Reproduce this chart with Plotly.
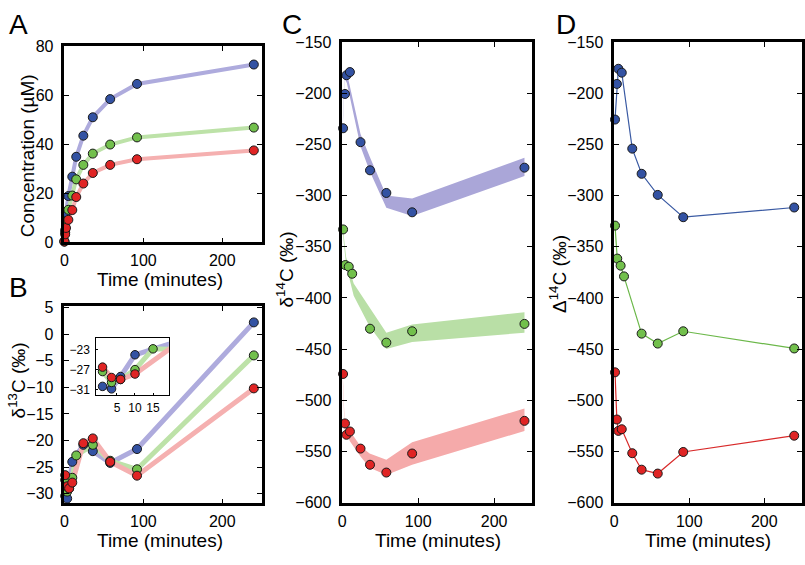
import plotly.graph_objects as go

W, H = 805, 565
FONT = "Liberation Sans, Arial, sans-serif"

# ---------------- data ----------------
# Panel A: concentration (uM)
t_conc = [0, 1, 2, 5, 10, 15, 24, 36, 58, 92, 240]
conc_blue = [0.5, 5.0, 12.1, 18.9, 26.8, 34.9, 43.5, 51.0, 58.4, 64.6, 72.5]
conc_green = [0.3, 4.0, 8.6, 13.3, 19.1, 25.7, 31.6, 36.2, 39.9, 42.8, 46.8]
conc_red = [0.4, 3.3, 5.9, 9.2, 13.2, 18.5, 24.0, 28.3, 31.6, 33.9, 37.5]

# Panel B: d13C (permil)
tB_blue = [1, 3.5, 6, 10, 24, 36, 58, 92, 240]
d13_blue = [-30.4, -30.9, -28.4, -24.0, -20.8, -22.0, -24.2, -21.6, 2.2]
tB_green = [1, 3.5, 6, 10, 15, 36, 58, 92, 240]
d13_green = [-27.4, -29.6, -29.0, -27.0, -22.8, -20.8, -23.8, -25.4, -4.0]
tB_red = [1, 3.5, 6, 10, 24, 36, 58, 92, 240]
d13_red = [-26.5, -28.6, -29.0, -27.9, -20.5, -19.6, -24.0, -26.6, -10.2]

# Panels C, D: d14C and D14C (permil)
t_iso = [1, 3.5, 5.5, 10, 24, 36.5, 58, 92, 240]
t_iso_green = [1, 4, 8.5, 13, 36.5, 58, 92, 240]
d14_blue = [-234.3, -200.8, -182.5, -179.4, -247.9, -275.4, -297.5, -316.4, -272.8]
d14_green = [-333.1, -367.9, -369.5, -376.4, -430.1, -443.7, -432.6, -425.4]
d14_red = [-474.3, -522.6, -533.7, -530.5, -547.2, -563.0, -570.6, -552.0, -520.1]
D14_blue = [-225.8, -191.0, -176.2, -180.0, -254.2, -278.8, -299.4, -321.2, -311.7]
D14_green = [-329.4, -361.6, -368.5, -379.0, -434.9, -444.6, -432.6, -449.4]
D14_red = [-472.7, -518.8, -529.9, -528.3, -551.7, -567.8, -571.6, -550.5, -534.6]

# Panel C model bands
band_t_blue = [0.5, 3, 6, 24, 36, 58, 92, 240]
band_blue_hi = [-230, -180, -180, -240, -262, -300, -303, -263]
band_blue_lo = [-236, -186, -190, -252, -276, -312, -320, -281]
band_t_green = [0.5, 5, 15, 36, 58, 92, 240]
band_green_hi = [-330, -360, -386, -410, -434, -426, -414]
band_green_lo = [-336, -368, -398, -428, -450, -443, -434]
band_t_red = [0.5, 3, 10, 24, 36, 58, 92, 240]
band_red_hi = [-472, -520, -530, -545, -552, -558, -541, -508]
band_red_lo = [-478, -528, -540, -555, -566, -573, -563, -530]

x_ticks = [0, 100, 200]
yA_ticks = [0, 20, 40, 60, 80]
yB_ticks = [5, 0, -5, -10, -15, -20, -25, -30]
yC_ticks = [-150, -200, -250, -300, -350, -400, -450, -500, -550, -600]
inset_x_ticks = [5, 10, 15]
inset_y_ticks = [-23, -27, -31]

# ---------------- styling ----------------
MK = {"blue": "#3352a3", "green": "#72c04c", "red": "#e02424"}
LIGHT = {"blue": "#aeabdd", "green": "#bde2a8", "red": "#f5b0b0"}
BAND = {"blue": "#aaa6d8", "green": "#b9dfa6", "red": "#f5aaaa"}
DLINE = {"blue": "#3a5aa3", "green": "#6cb84a", "red": "#d82a2a"}


def dom_x(a, b):
    return [a / W, b / W]


def dom_y(top, bottom):
    return [1 - bottom / H, 1 - top / H]


fig = go.Figure()


def markers(x, y, c, xa, ya, size=9, clip=False):
    fig.add_trace(go.Scatter(x=x, y=y, mode="markers", xaxis=xa, yaxis=ya,
                             marker=dict(size=size, color=MK[c],
                                         line=dict(color="#1a1a1a", width=1)),
                             cliponaxis=clip, showlegend=False, hoverinfo="skip"))


def line(x, y, color, width, xa, ya):
    fig.add_trace(go.Scatter(x=x, y=y, mode="lines", xaxis=xa, yaxis=ya,
                             line=dict(color=color, width=width),
                             showlegend=False, hoverinfo="skip"))


# Panel A
for c, y in (("blue", conc_blue), ("green", conc_green), ("red", conc_red)):
    line(t_conc, y, LIGHT[c], 4, "x", "y")
for c, y in (("blue", conc_blue), ("green", conc_green), ("red", conc_red)):
    markers(t_conc, y, c, "x", "y")

# Panel B
series_B = (("blue", tB_blue, d13_blue), ("green", tB_green, d13_green), ("red", tB_red, d13_red))
for c, t, y in series_B:
    line(t, y, LIGHT[c], 5, "x2", "y2")
for c, t, y in series_B:
    markers(t, y, c, "x2", "y2")

# Inset of B
for c, t, y in series_B:
    line(t, y, LIGHT[c], 5, "x5", "y5")
for c, t, y in series_B:
    markers(t, y, c, "x5", "y5", size=8.5, clip=True)

# Panel C bands
for c, bt, hi, lo in (("blue", band_t_blue, band_blue_hi, band_blue_lo),
                      ("green", band_t_green, band_green_hi, band_green_lo),
                      ("red", band_t_red, band_red_hi, band_red_lo)):
    fig.add_trace(go.Scatter(x=bt + bt[::-1], y=hi + lo[::-1], mode="lines",
                             fill="toself", fillcolor=BAND[c], line=dict(width=0, color=BAND[c]),
                             xaxis="x3", yaxis="y3", showlegend=False, hoverinfo="skip"))
markers(t_iso, d14_blue, "blue", "x3", "y3")
markers(t_iso_green, d14_green, "green", "x3", "y3")
markers(t_iso, d14_red, "red", "x3", "y3")

# Panel D
line(t_iso, D14_blue, DLINE["blue"], 1.2, "x4", "y4")
line(t_iso_green, D14_green, DLINE["green"], 1.2, "x4", "y4")
line(t_iso, D14_red, DLINE["red"], 1.2, "x4", "y4")
markers(t_iso, D14_blue, "blue", "x4", "y4")
markers(t_iso_green, D14_green, "green", "x4", "y4")
markers(t_iso, D14_red, "red", "x4", "y4")


def axis(domain, rng, tickvals, anchor, size=16, lw=2.5, tl=5, mirror="ticks", standoff=0):
    return dict(domain=domain, range=rng, tickvals=tickvals, anchor=anchor,
                ticks="inside", ticklen=tl, tickwidth=1.3, tickcolor="black",
                showline=True, linecolor="black", linewidth=lw, mirror=mirror,
                showgrid=False, zeroline=False, ticklabelstandoff=standoff,
                tickfont=dict(size=size, color="black", family=FONT))


xa_dom = dom_x(60.7, 259)
fig.update_layout(
    width=W, height=H, margin=dict(l=0, r=0, t=0, b=0),
    paper_bgcolor="white", plot_bgcolor="white",
    font=dict(family=FONT, color="black"),
    xaxis=axis(xa_dom, [0, 250], x_ticks, "y", standoff=2),
    yaxis=axis(dom_y(39.3, 241.7), [0, 80], yA_ticks, "x", standoff=5),
    xaxis2=axis(xa_dom, [0, 250], x_ticks, "y2", standoff=2),
    yaxis2=axis(dom_y(307.7, 510.7), [-31.8, 5.2], yB_ticks, "x2", standoff=5),
    xaxis3=axis(dom_x(340, 530.7), [0, 250], x_ticks, "y3", standoff=2),
    yaxis3=axis(dom_y(35, 510), [-600, -150], yC_ticks, "x3", standoff=5),
    xaxis4=axis(dom_x(613.3, 801.7), [0, 250], x_ticks, "y4", standoff=2),
    yaxis4=axis(dom_y(35, 510), [-600, -150], yC_ticks, "x4", standoff=5),
    xaxis5=axis(dom_x(92.7, 165.7), [-0.75, 19.4], inset_x_ticks, "y5", size=12, lw=1, tl=2,
                mirror=True, standoff=1),
    yaxis5=axis(dom_y(340.7, 399.3), [-32.2, -20.7], inset_y_ticks, "x5", size=12, lw=1, tl=2,
                mirror=True, standoff=3),
)

annots = []


def note(text, x, y, size, angle=0):
    annots.append(dict(text=text, x=x / W, y=1 - y / H, xref="paper", yref="paper",
                       showarrow=False, textangle=angle, xanchor="center", yanchor="middle",
                       font=dict(size=size, color="black", family=FONT)))


for lbl, x, y in (("A", 15, 17), ("B", 15, 288), ("C", 289, 17), ("D", 565, 17)):
    note(lbl, x, y, 28)
for x, y in ((157, 280), (157, 549), (436, 549), (708, 549)):
    note("Time (minutes)", x, y, 19)
note("Concentration (µM)", 24, 152, 19, -90)
note("δ<sup>13</sup>C (‰)", 14, 384, 19, -90)
note("δ<sup>14</sup>C (‰)", 282, 270, 19, -90)
note("Δ<sup>14</sup>C (‰)", 557, 274, 19, -90)
fig.update_layout(annotations=annots)

fig.write_html("out.html", config={"displayModeBar": False},
               post_script="document.body.style.margin='0';document.body.style.overflow='hidden';")
